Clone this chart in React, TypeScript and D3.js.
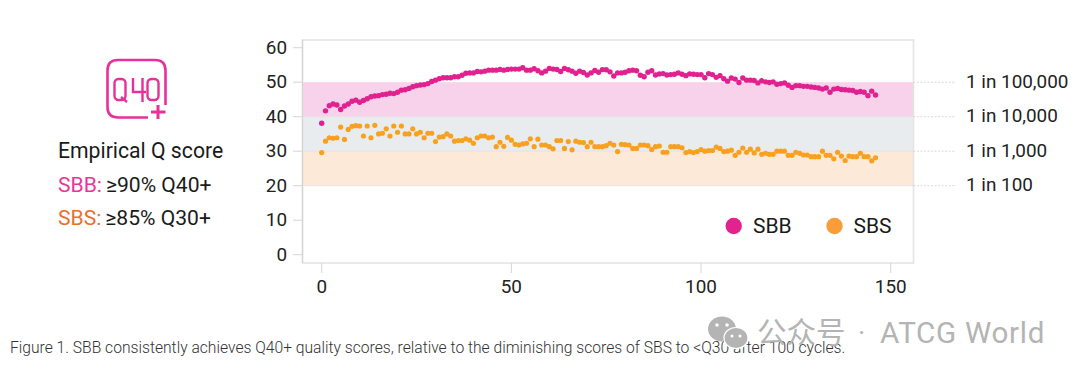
import React from "react";
import * as d3 from "d3";

const sbbValues = [38.1,41.7,43.2,43.7,43.4,42.1,43.1,43.7,44.5,44.8,44.2,44.7,45.2,45.8,46,46.1,46.4,46.5,46.8,46.7,47.1,47.7,47.8,48.2,48.7,49,49.2,49.3,49.6,50.2,50.6,51,51.3,51.3,51.3,51.6,51.6,52,52.6,52.7,52.7,53.1,53,53.2,53.5,53.5,53.5,53.7,53.5,53.7,53.8,53.8,53.8,54.2,53.5,53.5,53.9,53.3,52.7,53.2,54,53.8,53.7,53.1,54,53.6,53.2,52.6,53.2,52.8,52.1,52.7,53.4,52.9,53.65,53.6,53,51.8,52.7,52.7,52.9,53.3,53.5,53.3,52,51.6,52.9,53.3,52.1,52.4,52.5,52.1,52.2,52.3,52.7,52.3,51.9,52.4,52.3,52.2,52.2,51.3,52.5,52.2,51.4,51.9,51,50.3,51.2,50.9,49.9,51.2,50.6,50.6,50.5,49.8,50.4,50.1,49.9,50.1,49.4,49.6,49.8,49.1,48.5,49,49,48.8,48.8,48.6,48.5,48.3,48,48.3,47.1,48,48.2,47.9,47.8,47.7,47.6,47.1,47.3,47.1,46.1,47.4,46.3];
const sbsValues = [29.6,32.9,33.9,33.75,33.9,37,33.4,36.3,37.2,37.4,37.3,34.4,37.3,33.9,37.5,35,35.2,36.5,34.4,37.3,35.5,37.3,35,35,36.5,35,35.5,33.9,35.2,35.2,32.8,34.1,34.2,35,34.4,32.9,33.1,33.1,33.6,33.2,32.3,33.9,34.4,34.4,33.9,34.1,31.3,32.6,31.4,34,33.2,32,31.8,32.1,32.3,33.6,31.3,33.5,31.8,31.8,31.3,30.7,33.1,33.1,30.8,32.8,30.4,32.9,32.6,32.5,31.3,32.6,31.3,31.3,31.3,31.6,32.3,31.8,29.9,32,31.9,31.8,30.8,30.8,31.8,31.8,31.6,30.5,31.3,31.5,29.7,29.7,31.3,31.3,31.3,31,29.6,29.9,29.6,29.9,30.5,30,30.2,30.2,31.2,30.8,29.9,30,30.3,28.8,29.7,30.9,29.7,30.6,29.5,30.6,29.1,29.4,29.1,29.1,30,30,30,28.8,28.8,29.7,29.4,28.9,28.9,28.4,28.4,28.4,30,28.8,28.8,27.8,29.7,28.6,27.3,28.6,28.4,28.4,29.4,28.4,28.4,27.2,28.1];
const yTicks = [0,10,20,30,40,50,60];
const xTicks = [0,50,100,150];
const errorRates = [{q:50,label:"1 in 100,000"},{q:40,label:"1 in 10,000"},{q:30,label:"1 in 1,000"},{q:20,label:"1 in 100"}];
const bands = [{from:50,to:40,color:"#f8d2ea"},{from:40,to:30,color:"#e9ecef"},{from:30,to:20,color:"#fce9d8"}];
const caption = "Figure 1. SBB consistently achieves Q40+ quality scores, relative to the diminishing scores of SBS to <Q30 after 100 cycles.";

const PINK = "#e0218f";
const ORANGE = "#f9a11f";
const font = "Roboto, sans-serif";

export default function App() {
  const x = d3.scaleLinear().domain([0,150]).range([321.7,890.7]);
  const y = d3.scaleLinear().domain([0,60]).range([254.7,47.7]);
  const L = 302.5, R = 913.5, T = 40, B = 263;
  return (
    <svg width={1080} height={376} style={{position:"absolute",left:0,top:0,display:"block",background:"#fff"}} fontFamily={font}>
      {bands.map(b => <rect key={b.from} x={L} width={R-L} y={y(b.from)} height={y(b.to)-y(b.from)} fill={b.color} />)}
      {bands.map(b => <line key={b.from} x1={L} x2={R} y1={y(b.to)} y2={y(b.to)} stroke="#e8dce0" strokeWidth={0.8} />)}
      <rect x={L} y={T} width={R-L} height={B-T} fill="none" stroke="#e4e4e4" strokeWidth={1.6} />
      <line x1={L} x2={L} y1={T} y2={B} stroke="#d4d4d4" strokeWidth={1.2} />
      {yTicks.map(t => (
        <g key={t}>
          <line x1={293} x2={L} y1={y(t)} y2={y(t)} stroke="#d6d6d6" />
          <text x={287} y={y(t)+5.8} textAnchor="end" fontSize={18.9} fill="#222">{t}</text>
        </g>
      ))}
      {xTicks.map(t => (
        <g key={t}>
          <line x1={x(t)} x2={x(t)} y1={B} y2={273} stroke="#d6d6d6" />
          <text x={x(t)} y={292.5} textAnchor="middle" fontSize={18.9} fill="#222">{t}</text>
        </g>
      ))}
      {errorRates.map(e => (
        <g key={e.q}>
          <line x1={R} x2={956} y1={y(e.q)} y2={y(e.q)} stroke="#cfcfcf" strokeDasharray="2 1.5" strokeWidth={0.8} />
          <text x={966} y={y(e.q)+5.6} fontSize={18.9} fill="#222">{e.label}</text>
        </g>
      ))}
      {sbsValues.map((v,i) => <circle key={i} cx={x(i)} cy={y(v)} r={2.6} fill={ORANGE} />)}
      {sbbValues.map((v,i) => <circle key={i} cx={x(i)} cy={y(v)} r={2.7} fill={PINK} />)}
      <circle cx={733.7} cy={226} r={8.2} fill="#e3228f" />
      <text x={753} y={232.8} fontSize={21} fill="#1a1a1a">SBB</text>
      <circle cx={834.5} cy={226} r={8.2} fill="#f99d3a" />
      <text x={853.5} y={232.8} fontSize={21} fill="#1a1a1a">SBS</text>

      {/* Q40+ badge */}
      <g fill="none" stroke="#e8309a" strokeWidth={2.6}>
        <path d="M148 117.5 H118 Q107.5 117.5 107.5 107 V70.5 Q107.5 60 118 60 H155 Q165.5 60 165.5 70.5 V105" />
        <path d="M151 112 H165.5 M158 105 V119" strokeWidth={3} />
        <rect x={114.5} y={79} width={11} height={21} rx={4} strokeWidth={2.4} />
        <path d="M121 97 L127 102" strokeWidth={2.4} />
        <path d="M133 78 V92 H146 M142.5 78 V102" strokeWidth={2.4} />
        <rect x={147.5} y={79} width={11} height={21} rx={4} strokeWidth={2.4} />
      </g>

      <text x={58} y={158} fontSize={21.2} fill="#1a1a1a">Empirical Q score</text>
      <text x={58} y={192} fontSize={21.1} fill="#1a1a1a"><tspan fill="#e8369b">SBB:</tspan><tspan dx={4}>≥90% Q40+</tspan></text>
      <text x={58} y={224.5} fontSize={21.1} fill="#1a1a1a"><tspan fill="#e8702f">SBS:</tspan><tspan dx={4}>≥85% Q30+</tspan></text>

      <text x={10} y={353} fontSize={15.65} fontWeight={300} fill="#333">{caption}</text>

      {/* watermark */}
      <g fill="#b4b4b4">
        <ellipse cx={722} cy={329} rx={14} ry={12.5} />
        <ellipse cx={736} cy={338} rx={12} ry={10.5} stroke="#fff" strokeWidth={1.2} />
      </g>
      <g fill="#fff">
        <circle cx={717} cy={325} r={1.8} /><circle cx={727} cy={325} r={1.8} />
        <circle cx={732} cy={336} r={1.5} /><circle cx={740} cy={336} r={1.5} />
      </g>
      <text x={757} y={343} fontSize={29.5} fill="#b4b4b4" fontFamily="'Noto Sans CJK SC', sans-serif">公众号</text>
      <text x={858} y={342} fontSize={28} fill="#b4b4b4">·</text>
      <text x={880} y={343} fontSize={29.6} fill="#b4b4b4" letterSpacing={0.7}>ATCG World</text>
    </svg>
  );
}
